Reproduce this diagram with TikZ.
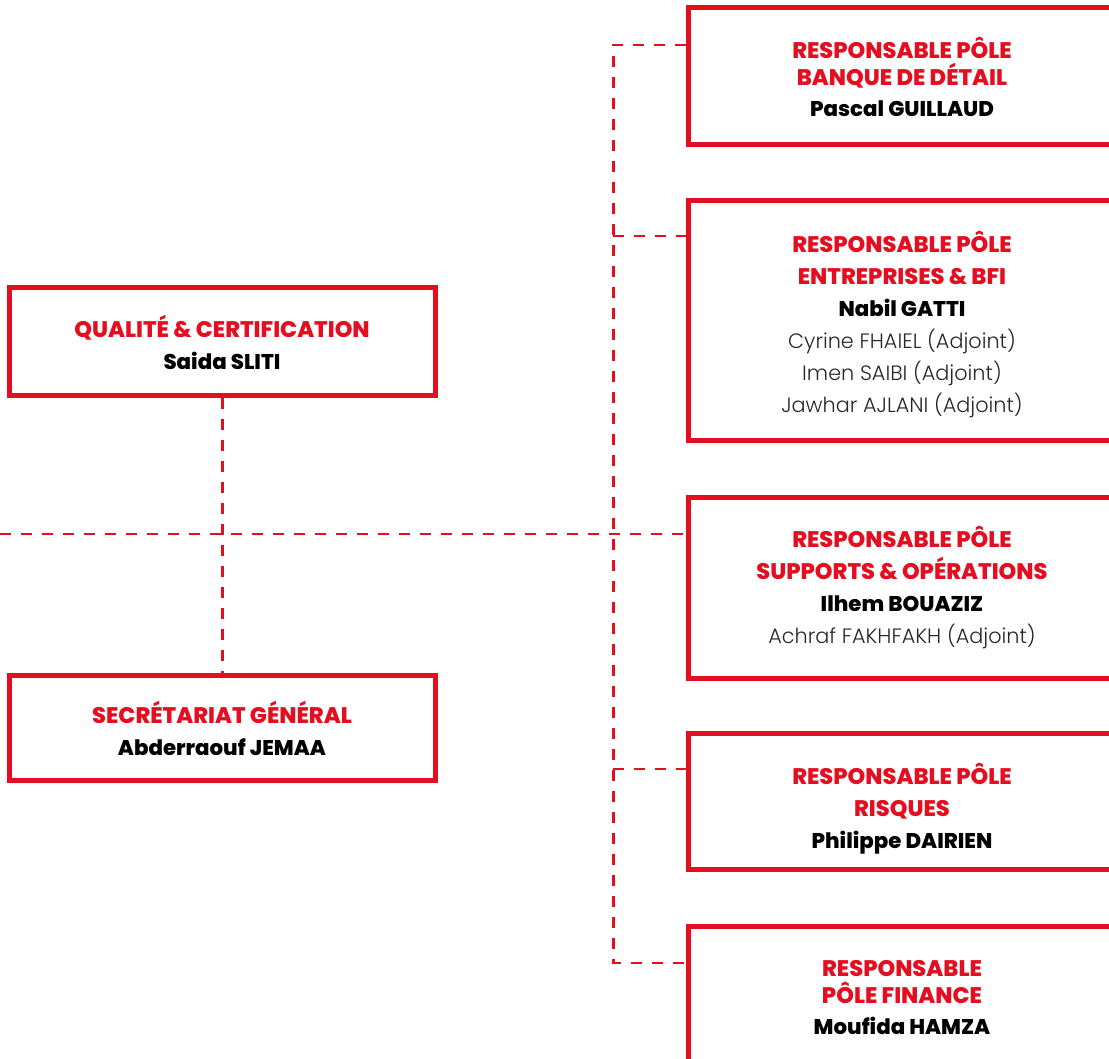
\documentclass[tikz,border=0pt]{standalone}
\usepackage{fontspec}
\setmainfont{Poppins}[BoldFont=* ExtraBold]
\newfontfamily\lightfont{Poppins}[UprightFont=* Light]
\definecolor{bred}{RGB}{228,14,32}
\tikzset{
  box/.style={draw=bred, line width=5pt, inner sep=0pt},
  conn/.style={draw=bred, line width=2.8pt, dash pattern=on 11pt off 10pt},
  txt/.style={align=center, inner sep=0pt, font=\fontsize{20.8}{32}\selectfont},
}
\newcommand{\hd}[1]{\textcolor{bred}{\fontsize{22.5}{22.5}\selectfont\bfseries #1}}
\newcommand{\nm}[1]{{\fontsize{21.3}{21.3}\selectfont\bfseries #1}}
\newcommand{\adj}[1]{{\lightfont\color[RGB]{40,40,40} #1}}
\begin{document}
\begin{tikzpicture}[x=1pt,y=-1pt]
\useasboundingbox (0,0) rectangle (1109,1059);
% boxes
\node[box, minimum width=429pt, minimum height=137.5pt] (b1) at (903,76.25) {};
\node[box, minimum width=429pt, minimum height=240pt] (b2) at (903,320.5) {};
\node[box, minimum width=429pt, minimum height=180.5pt] (b3) at (903,587.75) {};
\node[box, minimum width=429pt, minimum height=136pt] (b4) at (903,801.5) {};
\node[box, minimum width=429pt, minimum height=180pt] (b5) at (903,1016.5) {};
\node[box, minimum width=426pt, minimum height=107.5pt] (q) at (222.5,341.5) {};
\node[box, minimum width=426pt, minimum height=105pt] (s) at (222.5,727.5) {};
% texts
\node[txt, font=\fontsize{20.8}{27}\selectfont] (t1) at (902,77.3) {\hd{RESPONSABLE PÔLE}\\\hd{BANQUE DE DÉTAIL}\\[4pt]\nm{Pascal GUILLAUD}};
\node[txt] (t2) at (902,324) {\hd{RESPONSABLE PÔLE}\\\hd{ENTREPRISES \& BFI}\\\nm{Nabil GATTI}\\\adj{Cyrine FHAIEL (Adjoint)}\\\adj{Imen SAIBI (Adjoint)}\\\adj{Jawhar AJLANI (Adjoint)}};
\node[txt] (t3) at (902,587) {\hd{RESPONSABLE PÔLE}\\\hd{SUPPORTS \& OPÉRATIONS}\\\nm{Ilhem BOUAZIZ}\\\adj{Achraf FAKHFAKH (Adjoint)}};
\node[txt] (t4) at (902,808.8) {\hd{RESPONSABLE PÔLE}\\\hd{RISQUES}\\\nm{Philippe DAIRIEN}};
\node[txt, font=\fontsize{20.8}{27}\selectfont] (t5) at (902,997.8) {\hd{RESPONSABLE}\\\hd{PÔLE FINANCE}\\[4pt]\nm{Moufida HAMZA}};
\node[txt] (tq) at (222,342) {\hd{QUALITÉ \& CERTIFICATION}\\\nm{Saida SLITI}};
\node[txt] (ts) at (222,728) {\hd{SECRÉTARIAT GÉNÉRAL}\\\nm{Abderraouf JEMAA}};
% connectors
\coordinate (bt) at (613.3,45);
\coordinate (bb) at (613.3,963);
\coordinate (hl) at (0,534);
\draw[conn] (b1.west |- bt) -- (bt) -- (bb) -- (b5.west |- bb);
\draw[conn] (613.3,236) -- (b2.west |- 613.3,236);
\draw[conn] (613.3,769) -- (b4.west |- 613.3,769);
\draw[conn] (hl) -- (hl -| b3.west);
\draw[conn] (q.south) -- (s.north);
\end{tikzpicture}
\end{document}
